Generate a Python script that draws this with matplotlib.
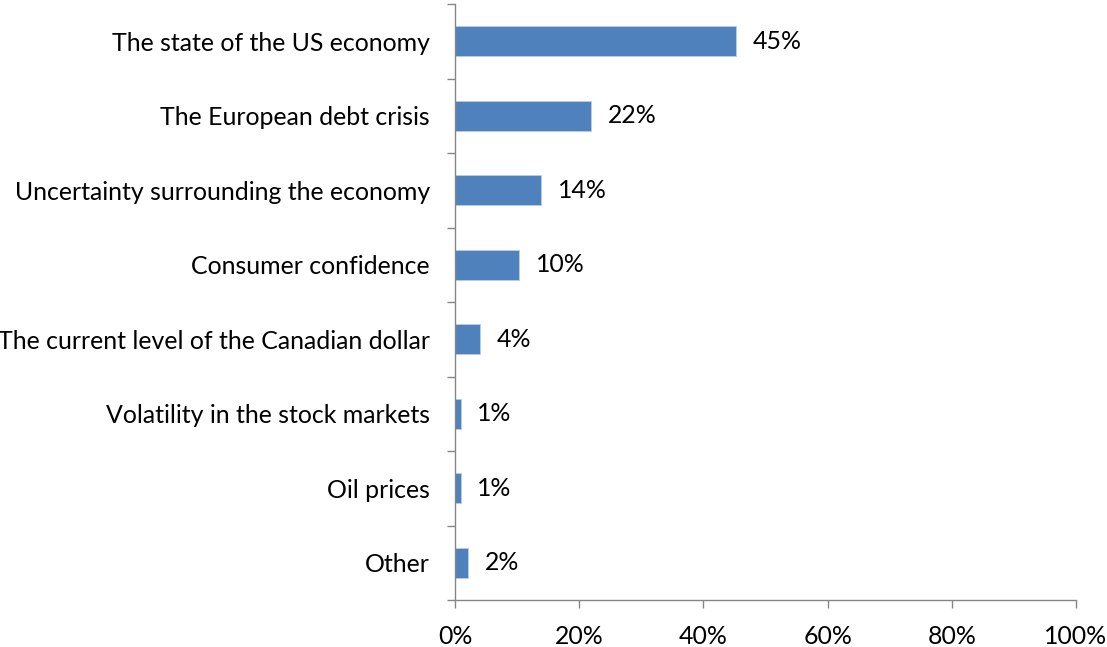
import matplotlib
matplotlib.use("Agg")
import matplotlib.pyplot as plt
from matplotlib.ticker import FuncFormatter

plt.rcParams['font.family'] = ['Lato', 'DejaVu Sans']

categories = [
    "The state of the US economy",
    "The European debt crisis",
    "Uncertainty surrounding the economy",
    "Consumer confidence",
    "The current level of the Canadian dollar",
    "Volatility in the stock markets",
    "Oil prices",
    "Other",
]
values = [45.2, 21.9, 13.8, 10.3, 4.0, 0.9, 0.9, 2.1]
labels = ["45%", "22%", "14%", "10%", "4%", "1%", "1%", "2%"]
xticks = [0, 20, 40, 60, 80, 100]

axis_col = "#868686"
fs = 17.9

fig = plt.figure(figsize=(11.07, 6.47), dpi=100)
ax = fig.add_axes([455 / 1107, 1 - 600 / 647, (1076 - 455) / 1107, (600 - 4) / 647])

n = len(categories)
ypos = list(range(n))
ax.barh(ypos, values, height=0.4, color="#4F81BD", edgecolor="#B9CDE5", linewidth=0.6)

for y, v, t in zip(ypos, values, labels):
    ax.text(v + 2.7, y, t, va="center", ha="left", fontsize=fs, color="black")

ax.set_xlim(0, 100)
ax.set_ylim(n - 0.5, -0.5)
ax.set_xticks(xticks)
ax.xaxis.set_major_formatter(FuncFormatter(lambda x, p: f"{int(x)}%"))
ax.set_yticks(ypos)
ax.set_yticklabels(categories)
ax.set_yticks([i - 0.5 for i in range(n + 1)], minor=True)

ax.tick_params(axis="y", which="major", length=0, pad=18, labelsize=fs)
ax.tick_params(axis="y", which="minor", length=6, width=1, color=axis_col, direction="out")
ax.tick_params(axis="x", length=6, width=1, color=axis_col, direction="out", labelsize=fs, pad=12)

for s in ["top", "right"]:
    ax.spines[s].set_visible(False)
for s in ["left", "bottom"]:
    ax.spines[s].set_color(axis_col)
    ax.spines[s].set_linewidth(1)

fig.savefig("out.png", dpi=100)
